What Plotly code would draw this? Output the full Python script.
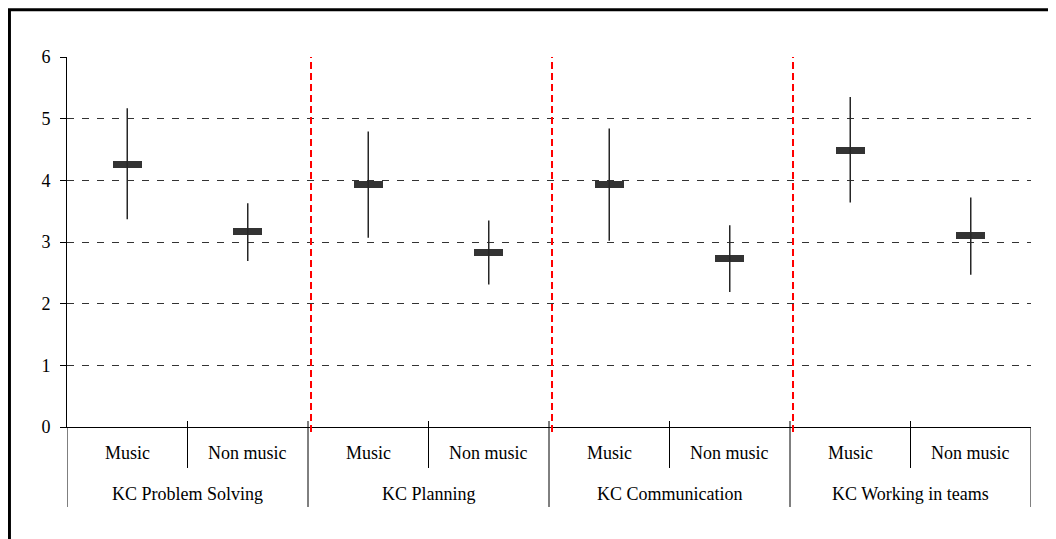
import plotly.graph_objects as go

groups = ["KC Problem Solving", "KC Planning", "KC Communication", "KC Working in teams"]
subgroups = ["Music", "Non music"]
means = [4.26, 3.17, 3.93, 2.83, 3.93, 2.73, 4.49, 3.10]
highs = [5.17, 3.63, 4.79, 3.35, 4.84, 3.27, 5.35, 3.72]
lows = [3.37, 2.69, 3.07, 2.31, 3.02, 2.19, 3.64, 2.47]
y_ticks = [0, 1, 2, 3, 4, 5, 6]

FONT = "Liberation Serif, Times New Roman, serif"
n = len(means)
xs = list(range(n))

fig = go.Figure()

# whiskers (low-high)
wx, wy = [], []
for i in xs:
    wx += [i, i, None]
    wy += [lows[i], highs[i], None]
fig.add_trace(go.Scatter(x=wx, y=wy, mode="lines",
                         line=dict(color="#262626", width=1.5),
                         hoverinfo="skip", showlegend=False))

# mean markers as thin bars
bar_h = 0.115
fig.add_trace(go.Bar(x=xs, y=[bar_h] * n, base=[m - bar_h / 2 for m in means],
                     width=0.24, marker=dict(color="#333333", line=dict(width=0)),
                     showlegend=False))

shapes = []
# red dashed separators between groups
for g in range(1, len(groups)):
    xv = g * len(subgroups) - 0.5 + 0.025
    shapes.append(dict(type="line", xref="x", yref="paper", x0=xv, x1=xv,
                       y0=-0.0135, y1=1, line=dict(color="#FF0000", width=2, dash="7px,4px")))
# category dividers below axis
for i in range(n + 1):
    xv = i - 0.5
    if i % len(subgroups) == 0:
        y0, y1 = -0.2162, 0.0162 if 0 < i < n else 0
    else:
        y0, y1 = -0.1108, 0.0162
    shapes.append(dict(type="line", xref="x", yref="paper", x0=xv, x1=xv,
                       y0=y0, y1=y1, line=dict(color="black", width=1)))
# outer border (top/left visible)
shapes.append(dict(type="rect", xref="paper", yref="paper", x0=-0.0597, x1=1.2,
                   y0=-0.6, y1=1.128, line=dict(color="black", width=3)))

annotations = []
for i in xs:
    annotations.append(dict(x=i, y=-0.0703, xref="x", yref="paper",
                            xanchor="center", yanchor="middle",
                            text=subgroups[i % len(subgroups)], showarrow=False,
                            font=dict(family=FONT, size=18, color="black")))
for g, name in enumerate(groups):
    annotations.append(dict(x=g * len(subgroups) + 0.5, y=-0.181, xref="x", yref="paper",
                            xanchor="center", yanchor="middle",
                            text=name, showarrow=False,
                            font=dict(family=FONT, size=18, color="black")))

fig.update_layout(
    width=1056, height=539,
    margin=dict(l=59, r=33, t=49, b=120),
    paper_bgcolor="white", plot_bgcolor="white",
    showlegend=False, bargap=0,
    shapes=shapes, annotations=annotations,
    font=dict(family=FONT, size=18, color="black"),
    xaxis=dict(range=[-0.5, n - 0.5], showgrid=False, zeroline=False,
               showline=True, linecolor="black", linewidth=1,
               showticklabels=False, ticks="", fixedrange=True),
    yaxis=dict(range=[0, 6], tickvals=y_ticks, showgrid=True,
               gridcolor="#333333", gridwidth=1, griddash="7px,8px",
               zeroline=False, showline=True, linecolor="black", linewidth=1,
               ticks="outside", ticklen=6, tickcolor="black", tickwidth=1,
               ticklabelstandoff=6,
               tickfont=dict(family=FONT, size=18, color="black")),
)

fig.write_html("out.html")
